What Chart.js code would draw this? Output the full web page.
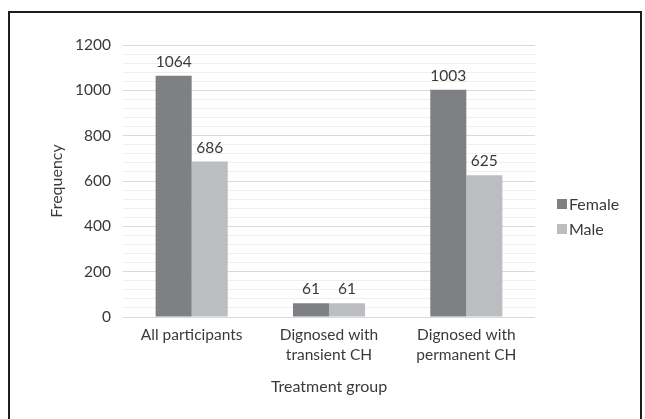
<!DOCTYPE html>
<html>
<head>
<meta charset="utf-8">
<script src="https://cdn.jsdelivr.net/npm/chart.js@4/dist/chart.umd.min.js"></script>
<style>
  html, body { margin: 0; padding: 0; background: #fff; }
  #wrap { position: relative; width: 645px; height: 419px; overflow: hidden; }
  #frame { position: absolute; left: 8px; top: 11px; width: 634px; height: 430px;
           border: 2px solid #1e1e1e; box-sizing: border-box; }
  canvas { position: absolute; left: 0; top: 0; }
</style>
</head>
<body>
<div id="wrap">
  <div id="frame"></div>
  <canvas id="c" width="645" height="419"></canvas>
</div>
<script>
const categories = [
  'All participants',
  ['Dignosed with', 'transient CH'],
  ['Dignosed with', 'permanent CH']
];
const femaleValues = [1064, 61, 1003];
const maleValues = [686, 61, 625];
const seriesNames = ['Female', 'Male'];
const yTickLabels = [0, 200, 400, 600, 800, 1000, 1200];

const TEXT = '#3a3a3a';
const FONT = 'Lato, "Open Sans", sans-serif';

// value labels above each bar
const barValueLabels = {
  id: 'barValueLabels',
  afterDatasetsDraw(chart) {
    const ctx = chart.ctx;
    ctx.save();
    ctx.font = '15.5px ' + FONT;
    ctx.fillStyle = TEXT;
    ctx.textAlign = 'center';
    ctx.textBaseline = 'alphabetic';
    chart.data.datasets.forEach((ds, i) => {
      chart.getDatasetMeta(i).data.forEach((el, j) => {
        ctx.fillText(String(ds.data[j]), el.x, el.y - 9);
      });
    });
    ctx.restore();
  }
};

// legend on the right, squares followed by series names
const sideLegend = {
  id: 'sideLegend',
  afterDraw(chart) {
    const ctx = chart.ctx;
    ctx.save();
    ctx.font = '16px ' + FONT;
    ctx.textBaseline = 'middle';
    ctx.textAlign = 'left';
    const x = 557, y0 = 204, step = 25, box = 10;
    chart.data.datasets.forEach((ds, i) => {
      const y = y0 + i * step;
      ctx.fillStyle = ds.backgroundColor;
      ctx.fillRect(x, y - box / 2, box, box);
      ctx.fillStyle = TEXT;
      ctx.fillText(ds.label, x + box + 2, y + 1);
    });
    ctx.restore();
  }
};

new Chart(document.getElementById('c'), {
  type: 'bar',
  data: {
    labels: categories,
    datasets: [
      { label: seriesNames[0], data: femaleValues, backgroundColor: '#7f8084' },
      { label: seriesNames[1], data: maleValues, backgroundColor: '#bcbdc1' }
    ]
  },
  plugins: [barValueLabels, sideLegend],
  options: {
    responsive: false,
    animation: false,
    devicePixelRatio: 1,
    layout: { padding: { left: 0, top: 45, right: 110, bottom: 0 } },
    categoryPercentage: 0.525,
    barPercentage: 1,
    plugins: { legend: { display: false }, tooltip: { enabled: false } },
    scales: {
      x: {
        grid: { display: false, drawTicks: false },
        border: { display: false },
        ticks: {
          color: TEXT, padding: 8, maxRotation: 0, autoSkip: false,
          font: { family: FONT, size: 15.5, lineHeight: 1.3 }
        },
        title: {
          display: true, text: 'Treatment group', color: TEXT,
          font: { family: FONT, size: 16, lineHeight: 1.2 },
          padding: { top: 0, bottom: 23 }
        },
        afterFit(scale) { scale.height = 102; }
      },
      y: {
        min: 0, max: 1200,
        border: { display: false },
        grid: {
          drawTicks: false,
          lineWidth: 1,
          color: ctx => (ctx.tick && ctx.tick.value % 200 === 0) ? '#d9d9d9' : '#efefef'
        },
        ticks: {
          stepSize: 40, autoSkip: false, padding: 12, color: TEXT,
          font: { family: FONT, size: 15.5 },
          callback: v => yTickLabels.includes(v) ? String(v) : ''
        },
        title: {
          display: true, text: 'Frequency', color: TEXT,
          font: { family: FONT, size: 16, lineHeight: 1.2 },
          padding: { top: 47, bottom: 0 }
        },
        afterFit(scale) { scale.width = 123; }
      }
    }
  }
});
</script>
</body>
</html>
